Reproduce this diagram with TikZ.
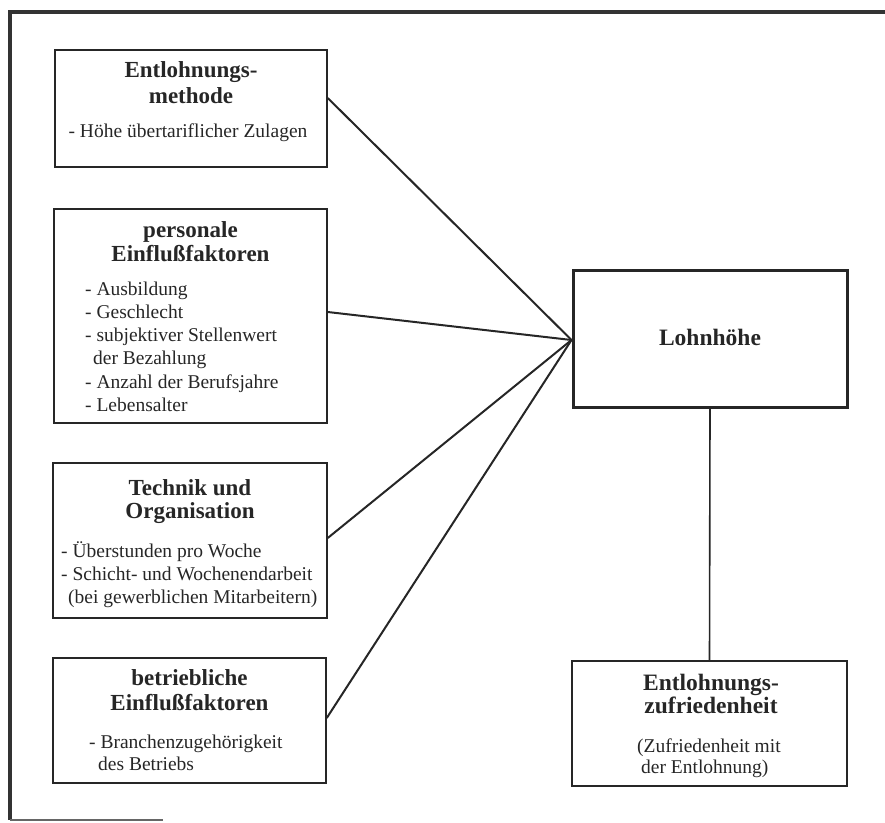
\documentclass[tikz,border=0pt]{standalone}
\usepackage{fontspec}
\setmainfont{Liberation Serif}
\begin{document}
\begin{tikzpicture}[x=1pt,y=-1pt,
  box/.style={draw=black!85,line width=1.5pt,rectangle,inner sep=0pt},
  mainbox/.style={draw=black!85,line width=3pt,rectangle,inner sep=0pt},
  ttl/.style={font=\fontsize{23}{27}\selectfont\bfseries,anchor=base,inner sep=0pt,text=black!85},
  bigttl/.style={font=\fontsize{23.5}{27}\selectfont\bfseries,anchor=base,inner sep=0pt,text=black!85},
  txt/.style={font=\fontsize{19.5}{23}\selectfont,anchor=base west,inner sep=0pt,text=black!85},
  txtc/.style={font=\fontsize{19.5}{23}\selectfont,anchor=base,inner sep=0pt,text=black!85},
  link/.style={draw=black!85,line width=2pt},
  vlink/.style={draw=black!85,line width=1.6pt}]
\useasboundingbox (0,0) rectangle (885,822);
% outer frame (partial)
\draw[black!80,line width=3.5pt] (885,12) -- (10,12) -- (10,820);
\draw[black!60,line width=2pt] (10,820) -- (163,820);
% boxes
\node[box,minimum width=272pt,minimum height=117pt] (b1) at (191,108.5) {};
\node[box,minimum width=273pt,minimum height=214pt] (b2) at (190.5,316) {};
\node[box,minimum width=274pt,minimum height=155pt] (b3) at (190,540.5) {};
\node[box,minimum width=273pt,minimum height=125pt] (b4) at (189.5,720.5) {};
\node[mainbox,minimum width=274pt,minimum height=137pt] (lohn) at (710,338.5) {};
\node[box,minimum width=275pt,minimum height=125pt] (zuf) at (709.5,723.5) {};
% box 1
\node[ttl] (b1t1) at (191,77) {Entlohnungs-};
\node[ttl] (b1t2) at (191,103) {methode};
\node[txtc] (b1x1) at (188,137) {- Höhe übertariflicher Zulagen};
% box 2
\node[ttl] (b2t1) at (190.5,237) {personale};
\node[ttl] (b2t2) at (190.5,261) {Einflußfaktoren};
\node[txt] (b2x1) at (85,295) {- Ausbildung};
\node[txt] (b2x2) at (85,318) {- Geschlecht};
\node[txt] (b2x3) at (85,341) {- subjektiver Stellenwert};
\node[txt] (b2x4) at (93,364) {der Bezahlung};
\node[txt] (b2x5) at (85,388) {- Anzahl der Berufsjahre};
\node[txt] (b2x6) at (85,411) {- Lebensalter};
% box 3
\node[ttl] (b3t1) at (190,495) {Technik und};
\node[ttl] (b3t2) at (190,518) {Organisation};
\node[txt] (b3x1) at (61,557) {- Überstunden pro Woche};
\node[txt] (b3x2) at (61,580) {- Schicht- und Wochenendarbeit};
\node[txt] (b3x3) at (68,603) {(bei gewerblichen Mitarbeitern)};
% box 4
\node[ttl] (b4t1) at (189.5,685) {betriebliche};
\node[ttl] (b4t2) at (189.5,710) {Einflußfaktoren};
\node[txt] (b4x1) at (89,748) {- Branchenzugehörigkeit};
\node[txt] (b4x2) at (98,770) {des Betriebs};
% Lohnhöhe
\node[bigttl] (lohnt) at (710,345) {Lohnhöhe};
% Zufriedenheit
\node[bigttl] (zuft1) at (711,690) {Entlohnungs-};
\node[bigttl] (zuft2) at (711,713) {zufriedenheit};
\node[txt] (zufx1) at (637,752) {(Zufriedenheit mit};
\node[txt] (zufx2) at (641,773) {der Entlohnung)};
% connectors
\coordinate (hub) at ([yshift=-1.5pt]lohn.west);
\draw[link] ([yshift=10.5pt]b1.east) -- (hub);
\draw[link] ([yshift=4pt]b2.east) -- (hub);
\draw[link] ([yshift=2.5pt]b3.east) -- (hub);
\draw[link] ([yshift=2.5pt]b4.east) -- (hub);
\draw[vlink] (lohn.south) -- (zuf.north);
\end{tikzpicture}
\end{document}
